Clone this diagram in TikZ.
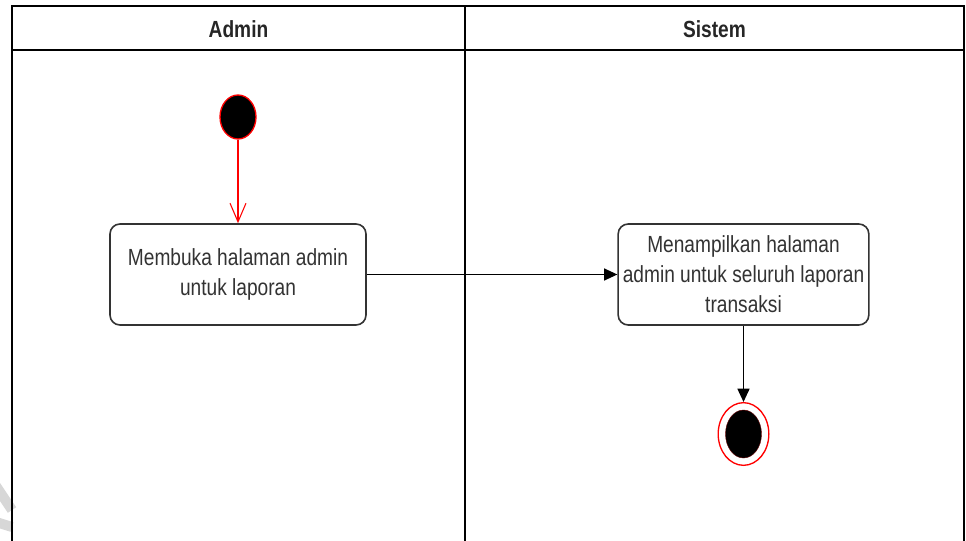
\documentclass[tikz,border=0pt]{standalone}
\usepackage{fontspec}
\setmainfont{Liberation Sans}[FakeStretch=0.82]
\usetikzlibrary{arrows.meta, positioning, shapes.geometric}
\definecolor{flowred}{RGB}{255,0,0}
\definecolor{textgray}{RGB}{51,51,51}
\definecolor{markgray}{RGB}{215,215,215}

\begin{document}
\begin{tikzpicture}[x=0.75pt, y=-0.75pt,
    lane/.style={line width=1.2pt, black},
    lanehead/.style={font=\bfseries\fontsize{17.5pt}{21pt}\selectfont, text=black!85},
    action/.style={draw=black!80, line width=1.2pt, rounded corners=7.5pt, fill=white,
        minimum width=192pt, minimum height=75.75pt, align=center, inner sep=1pt,
        text=textgray, font=\fontsize{17.5pt}{22.5pt}\selectfont},
    initial/.style={ellipse, draw=flowred, fill=black, line width=1pt,
        minimum width=27pt, minimum height=33pt, inner sep=0pt},
    final/.style={ellipse, draw=flowred, fill=white, line width=1pt,
        minimum width=38pt, minimum height=47pt, inner sep=0pt},
    finaldot/.style={ellipse, fill=black, draw=flowred!40!black, line width=0.3pt,
        minimum width=27pt, minimum height=36pt, inner sep=0pt},
    flow/.style={line width=1.2pt, black, -{Triangle[length=10pt, width=9pt]}}]
    \useasboundingbox (0,0) rectangle (966,541);

    % Watermark fragment
    \draw[markgray, line width=7.5pt] (-4,486) -- (12,510);
    \draw[markgray, line width=7.5pt] (-4,522) -- (12,527);

    % Swimlanes
    \draw[lane] (12,545) -- (12,6) -- (964,6) -- (964,545);
    \draw[lane] (12,50) -- (964,50);
    \draw[lane] (465,6) -- (465,545);
    \node[lanehead] (admin) at (238.5,29) {Admin};
    \node[lanehead] (sistem) at (714.5,29) {Sistem};

    % Admin lane
    \node[initial] (start) at (238,117) {};
    \node[action] (open) at (238,274.5) {Membuka halaman admin\\untuk laporan};

    % Sistem lane
    \node[action, minimum width=188pt] (show) at (743.5,274.5) {Menampilkan halaman\\admin untuk seluruh laporan\\transaksi};
    \node[final] (end) at (743.5,434) {};
    \node[finaldot] (enddot) at (end.center) {};

    % Transitions
    \draw[flowred, line width=0.8pt, -{Straight Barb[length=14pt, width=12pt]}] (start) -- (open);
    \draw[flow] (open) -- (show);
    \draw[flow] (show) -- (end);
\end{tikzpicture}
\end{document}
